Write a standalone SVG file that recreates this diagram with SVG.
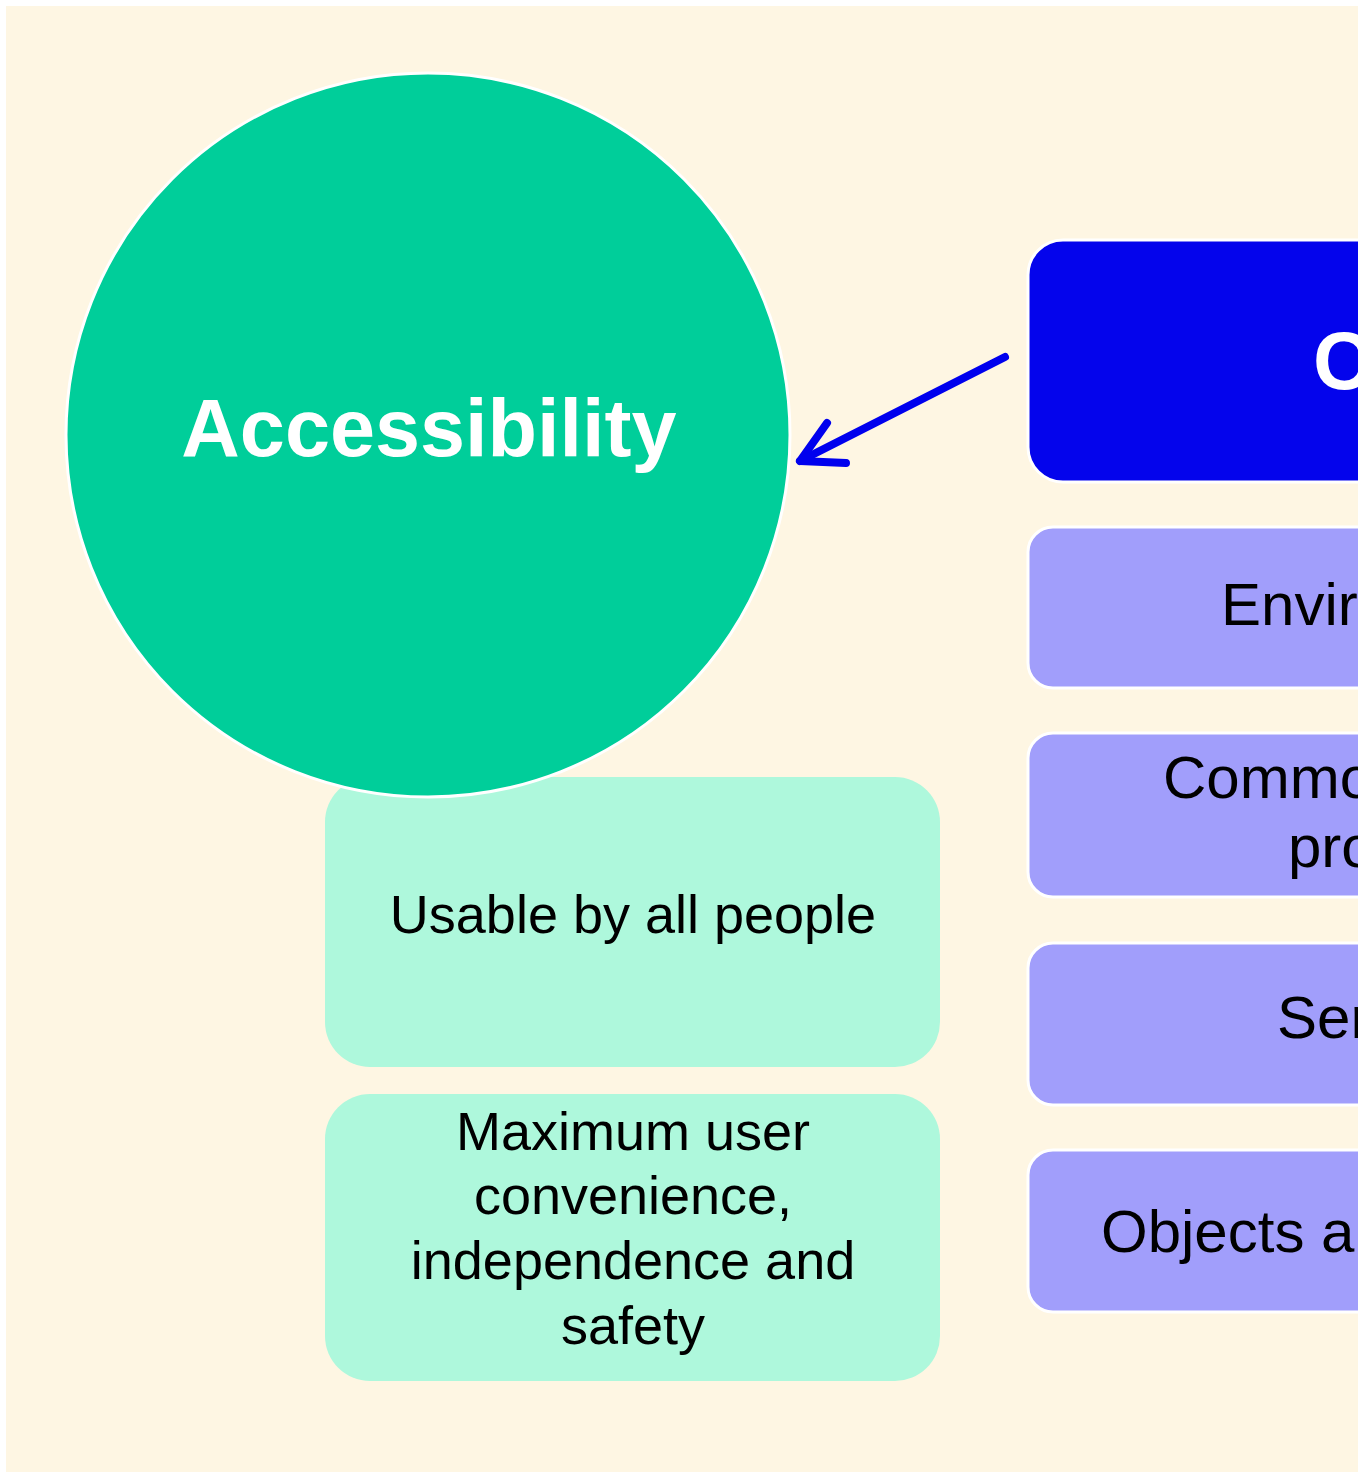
<svg xmlns="http://www.w3.org/2000/svg" width="1363" height="1477" viewBox="0 0 1363 1477">
  <style>
    .lbl { font-family: "Liberation Sans", Arial, sans-serif; }
    .head { fill: #ffffff; font-weight: bold; font-size: 81px; }
    .item { fill: #000000; font-size: 60px; }
    .sub { fill: #000000; font-size: 54px; text-anchor: middle; }
    .purple { fill: #A19EFB; stroke: #ffffff; stroke-width: 3; }
    .mint { fill: #AEF8DC; }
  </style>
  <rect x="0" y="0" width="1363" height="1477" fill="#ffffff"/>
  <rect x="6" y="6" width="1352" height="1466" fill="#FEF6E3"/>

  <g id="mint-usable">
    <rect class="mint" x="325" y="777" width="615" height="290" rx="45"/>
    <text class="lbl sub" x="633" y="933">Usable by all people</text>
  </g>
  <g id="mint-maximum">
    <rect class="mint" x="325" y="1094" width="615" height="287" rx="45"/>
    <text class="lbl sub" x="633" y="1150">Maximum user</text>
    <text class="lbl sub" x="633" y="1214">convenience,</text>
    <text class="lbl sub" x="633" y="1279">independence and</text>
    <text class="lbl sub" x="633" y="1344">safety</text>
  </g>

  <g id="accessibility">
    <circle cx="428" cy="435" r="362" fill="#00CE9A" stroke="#ffffff" stroke-width="3"/>
    <text class="lbl head" x="429" y="456" text-anchor="middle">Accessibility</text>
  </g>

  <g id="blue-box">
    <rect x="1028" y="240" width="400" height="242" rx="35" fill="#0404EC" stroke="#ffffff" stroke-width="3"/>
    <text class="lbl head" x="1313" y="389">C</text>
  </g>
  <g id="env">
    <rect class="purple" x="1028" y="527" width="400" height="161" rx="25"/>
    <text class="lbl item" x="1221" y="625">Envir</text>
  </g>
  <g id="comm">
    <rect class="purple" x="1028" y="733" width="400" height="164" rx="25"/>
    <text class="lbl item" x="1163" y="798">Commo</text>
    <text class="lbl item" x="1288" y="867">pro</text>
  </g>
  <g id="serv">
    <rect class="purple" x="1028" y="943" width="400" height="162" rx="25"/>
    <text class="lbl item" x="1277" y="1038">Ser</text>
  </g>
  <g id="objects">
    <rect class="purple" x="1028" y="1150" width="400" height="162" rx="25"/>
    <text class="lbl item" x="1101" y="1252">Objects a</text>
  </g>

  <g id="connectors">
    <path d="M1005 357 L800 461" fill="none" stroke="#0000EE" stroke-width="8" stroke-linecap="round"/>
    <path d="M827 423 L800 461 L846 463" fill="none" stroke="#0000EE" stroke-width="8" stroke-linecap="round" stroke-linejoin="round"/>
  </g>

  <rect x="1358" y="0" width="5" height="1477" fill="#ffffff"/>
  <rect x="0" y="1472" width="1363" height="5" fill="#ffffff"/>
</svg>
